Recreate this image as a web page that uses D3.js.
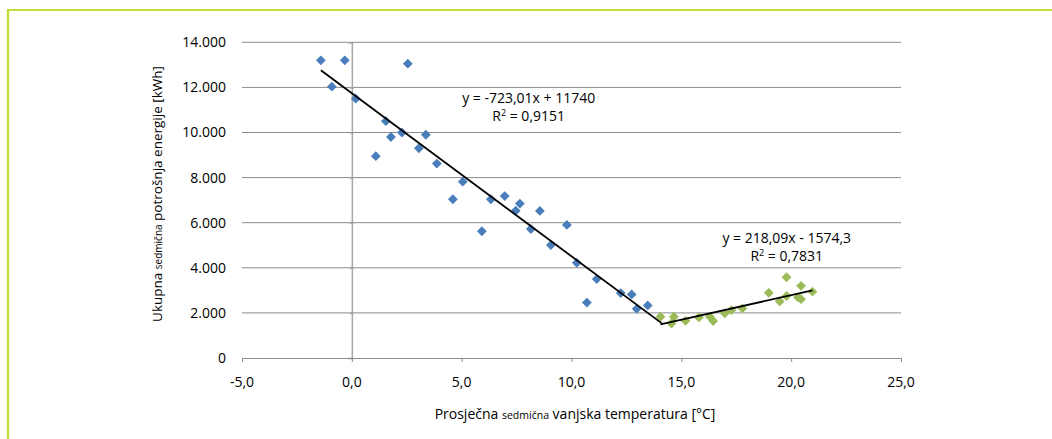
<!DOCTYPE html>
<html>
<head>
<meta charset="utf-8">
<script src="https://cdn.jsdelivr.net/npm/d3@7"></script>
<style>
  html, body { margin: 0; padding: 0; background: #fff; }
  svg { display: block; font-family: "Open Sans", "Noto Sans", sans-serif; }
</style>
</head>
<body>
<svg id="chart" width="1052" height="439"></svg>
<script>
// ---- data ----
const blueX = [-1.41, -0.32, -0.91, 0.18, 2.55, 1.55, 1.78, 1.09, 2.28, 3.37, 3.05, 3.87, 4.60, 5.05, 5.92, 6.33, 6.96, 7.46, 7.65, 8.15, 8.56, 9.06, 9.79, 10.24, 10.70, 11.15, 12.24, 12.74, 12.97, 13.47];
const blueY = [13200, 13200, 12030, 11500, 13050, 10500, 9800, 8950, 10000, 9900, 9300, 8620, 7040, 7820, 5620, 7040, 7180, 6530, 6850, 5720, 6520, 5010, 5900, 4220, 2460, 3500, 2880, 2820, 2180, 2330];
const greenX = [14.05, 14.66, 14.55, 15.19, 15.80, 16.30, 16.45, 16.98, 17.28, 17.78, 18.98, 19.48, 19.79, 19.79, 20.45, 20.31, 20.45, 20.97];
const greenY = [1830, 1830, 1530, 1650, 1800, 1830, 1640, 1980, 2120, 2200, 2890, 2510, 3580, 2750, 3200, 2690, 2610, 2940];
const blueTrend = { slope: -723.01, intercept: 11740, from: -1.41, to: 14.1 };
const greenTrend = { slope: 218.09, intercept: -1574.3, from: 14.05, to: 20.97 };
const blueEq = ["y = -723,01x + 11740", "0,9151"];
const greenEq = ["y = 218,09x - 1574,3", "0,7831"];
const xTicks = [-5, 0, 5, 10, 15, 20, 25];
const yTicks = [0, 2000, 4000, 6000, 8000, 10000, 12000, 14000];
const xTitle = ["Prosječna ", "sedmična", " vanjska temperatura [°C]"];
const yTitle = ["Ukupna ", "sedmična", " potrošnja energije [kWh]"];

// ---- layout ----
const svg = d3.select("#chart");
const W = 1052, H = 439;
const plot = { left: 242, right: 901, top: 42.3, bottom: 358 };
const x = d3.scaleLinear().domain([-5, 25]).range([plot.left, plot.right]);
const y = d3.scaleLinear().domain([0, 14000]).range([plot.bottom, plot.top]);

const loc = d3.formatLocale({ decimal: ",", thousands: ".", grouping: [3], currency: ["", ""], minus: "-" });
const fy = loc.format(",.0f");
const fx = loc.format(",.1f");
const ink = "#000";

// frame (green border top + left)
svg.append("line").attr("x1", 8).attr("x2", W).attr("y1", 10).attr("y2", 10)
  .attr("stroke", "#c3dc3a").attr("stroke-width", 2.2);
svg.append("line").attr("x1", 8).attr("x2", 8).attr("y1", 9).attr("y2", H)
  .attr("stroke", "#c3dc3a").attr("stroke-width", 2.2);

// gridlines
svg.append("g").selectAll("line").data(yTicks.filter(d => d > 0)).join("line")
  .attr("x1", plot.left).attr("x2", plot.right)
  .attr("y1", d => y(d)).attr("y2", d => y(d))
  .attr("stroke", "#8c8c8c").attr("stroke-width", 1);

// vertical axis at x = 0
const yAxis = d3.axisLeft(y).tickValues(yTicks).tickSize(4).tickFormat("");
const yAxG = svg.append("g").attr("transform", `translate(${x(0)},0)`).call(yAxis);
yAxG.select(".domain").attr("stroke", "#a6a6a6").attr("stroke-width", 1.5);
yAxG.selectAll(".tick line").attr("stroke", "#a6a6a6").attr("stroke-width", 1.5).attr("x1", 2).attr("x2", -2);

// y tick labels (left of the plot)
svg.append("g").selectAll("text").data(yTicks).join("text")
  .attr("x", 226).attr("y", d => y(d)).attr("dy", "0.35em")
  .attr("text-anchor", "end").attr("font-size", 14).attr("fill", ink)
  .text(d => fy(d));

// horizontal axis
const xAxis = d3.axisBottom(x).tickValues(xTicks).tickSize(4).tickSizeOuter(0).tickFormat("");
const xAxG = svg.append("g").attr("transform", `translate(0,${plot.bottom})`).call(xAxis);
xAxG.select(".domain").attr("stroke", "#8c8c8c").attr("stroke-width", 1);
xAxG.selectAll(".tick line").attr("stroke", "#8c8c8c");

svg.append("g").selectAll("text").data(xTicks).join("text")
  .attr("x", d => x(d)).attr("y", 387)
  .attr("text-anchor", "middle").attr("font-size", 14).attr("fill", ink)
  .text(d => fx(d));

// axis titles
const xt = svg.append("text").attr("x", 575).attr("y", 419)
  .attr("text-anchor", "middle").attr("fill", ink).attr("font-size", 14);
xTitle.forEach((t, i) => xt.append("tspan").attr("font-size", i === 1 ? 10.5 : 14).text(t));

const yt = svg.append("text").attr("transform", "translate(162,194) rotate(-90)")
  .attr("text-anchor", "middle").attr("fill", ink).attr("font-size", 13.5);
yTitle.forEach((t, i) => yt.append("tspan").attr("font-size", i === 1 ? 10 : 13.5).text(t));

// markers
const diamond = d3.symbol().type(d3.symbolSquare).size(48);
function drawPts(xs, ys, color) {
  svg.append("g").selectAll("path").data(xs.map((v, i) => [v, ys[i]])).join("path")
    .attr("d", diamond)
    .attr("transform", d => `translate(${x(d[0])},${y(d[1])}) rotate(45)`)
    .attr("fill", color);
}
drawPts(blueX, blueY, "#4a7ebb");
drawPts(greenX, greenY, "#9bbb59");

// trend lines
const line = d3.line().x(d => x(d[0])).y(d => y(d[1]));
[blueTrend, greenTrend].forEach(t => {
  svg.append("path")
    .attr("d", line([[t.from, t.slope * t.from + t.intercept], [t.to, t.slope * t.to + t.intercept]]))
    .attr("stroke", "#000").attr("stroke-width", 1.8).attr("fill", "none");
});

// equation labels
function eqLabel(lines, cx, cy) {
  const g = svg.append("g").attr("font-size", 14).attr("fill", ink).attr("text-anchor", "middle");
  g.append("text").attr("x", x(cx)).attr("y", y(cy)).text(lines[0]);
  const t2 = g.append("text").attr("x", x(cx)).attr("y", y(cy) + 18);
  t2.append("tspan").text("R");
  t2.append("tspan").attr("font-size", 9).attr("dy", -5).text("2");
  t2.append("tspan").attr("dy", 5).text(" = " + lines[1]);
}
eqLabel(blueEq, 8.05, 11320);
eqLabel(greenEq, 19.8, 5090);
</script>
</body>
</html>
